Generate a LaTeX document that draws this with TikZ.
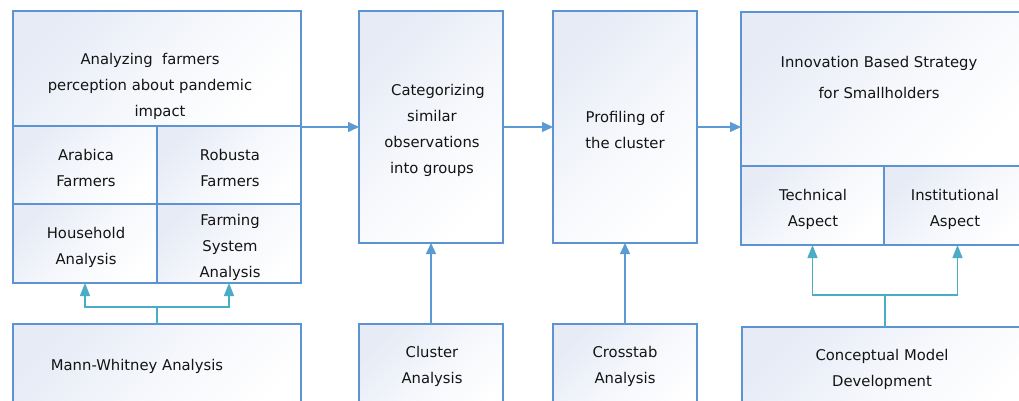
\documentclass[tikz,border=0pt]{standalone}
\usepackage{fontspec}
\setmainfont{DejaVu Sans}
\usetikzlibrary{arrows.meta}
\definecolor{boxline}{HTML}{5B93D3}
\definecolor{arrblue}{HTML}{5B9BD5}
\definecolor{arrteal}{HTML}{4BACC6}
\definecolor{gradtop}{HTML}{E6EBF6}
\definecolor{txt}{HTML}{141414}
\tikzset{
  boxn/.style={rectangle, inner sep=0pt, outer sep=0pt,
    anchor=north west, top color=gradtop, bottom color=white, middle color=white!60!gradtop, shading angle=45,
    draw=boxline, line width=1.1pt},
  lbl/.style={text=txt, font=\fontsize{14.8}{26}\selectfont, align=center, inner sep=0pt},
  arrb/.style={draw=arrblue, line width=1.2pt, -{Triangle[length=11pt,width=10pt]}},
  lnt/.style={draw=arrteal, line width=1.2pt},
  arrt/.style={draw=arrteal, line width=1.2pt, -{Triangle[length=13pt,width=10pt]}},
}
\begin{document}
\begin{tikzpicture}[x=1pt,y=-1pt]
\clip (0,0) rectangle (1019,400);
\fill[white] (0,0) rectangle (1019,400);
% left group
\node[boxn, minimum width=288pt, minimum height=115pt] (hdr) at (13,11) {};
\node[boxn, minimum width=144pt, minimum height=78pt] (ara) at (13,126) {};
\node[boxn, minimum width=144pt, minimum height=78pt] (rob) at (157,126) {};
\node[boxn, minimum width=144pt, minimum height=79pt] (hh) at (13,204) {};
\node[boxn, minimum width=144pt, minimum height=79pt] (fsa) at (157,204) {};
\node[boxn, minimum width=288pt, minimum height=100pt] (mw) at (13,324) {};
% middle
\node[boxn, minimum width=144pt, minimum height=232pt] (cat) at (359,11) {};
\node[boxn, minimum width=144pt, minimum height=100pt] (clu) at (359,324) {};
\node[boxn, minimum width=144pt, minimum height=232pt] (prof) at (553,11) {};
\node[boxn, minimum width=144pt, minimum height=100pt] (cro) at (553,324) {};
% right group
\node[boxn, minimum width=290pt, minimum height=154pt] (inn) at (741,12) {};
\node[boxn, minimum width=143pt, minimum height=79pt] (tech) at (741,166) {};
\node[boxn, minimum width=147pt, minimum height=79pt] (inst) at (884,166) {};
\node[boxn, minimum width=286pt, minimum height=100pt] (cm) at (742,327) {};
% texts
\node[lbl] (thdr) at (150,86) {Analyzing~~farmers\\perception about pandemic\\\hspace*{20pt}impact};
\node[lbl] (tara) at (86,168) {Arabica\\Farmers};
\node[lbl] (trob) at (230,168) {Robusta\\Farmers};
\node[lbl] (thh) at (86,247) {Household\\Analysis};
\node[lbl] (tfsa) at (230,247) {Farming\\System\\Analysis};
\node[lbl] (tmw) at (137,366) {Mann-Whitney Analysis};
\node[lbl] (tcat) at (432,130) {\hspace*{12pt}Categorizing\\similar\\observations\\into groups};
\node[lbl] (tprof) at (625,130) {Profiling of\\the cluster};
\node[lbl] (tclu) at (432,366) {Cluster\\Analysis};
\node[lbl] (tcro) at (625,366) {Crosstab\\Analysis};
\node[lbl, font=\fontsize{14.8}{31}\selectfont] (tinn) at (879,77) {Innovation Based Strategy\\for Smallholders};
\node[lbl] (ttech) at (813,209) {Technical\\Aspect};
\node[lbl] (tinst) at (955,209) {Institutional\\Aspect};
\node[lbl] (tcm) at (882,369) {Conceptual Model\\Development};
% connectors
\draw[arrb] (hdr.south east |- cat.west) -- (cat.west);
\draw[arrb] (cat.east) -- (prof.west);
\draw[arrb] (prof.east) -- (prof.east -| inn.west);
\draw[arrb] (clu.north) -- (cat.south);
\draw[arrb] (cro.north) -- (prof.south);
\coordinate (mwj) at (157,307);
\draw[lnt] (mw.north) -- (mwj);
\draw[arrt] (mwj) -| (hh.south);
\draw[arrt] (mwj) -| (fsa.south);
\coordinate (cmj) at (885,295);
\draw[lnt] (cm.north) -- (cmj);
\draw[arrt] (cmj) -| (tech.south);
\draw[arrt] (cmj) -| (inst.south);
\end{tikzpicture}
\end{document}
